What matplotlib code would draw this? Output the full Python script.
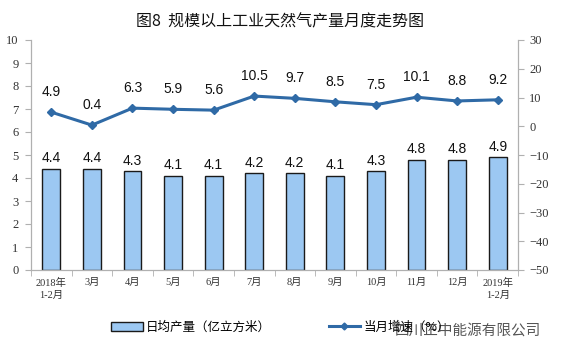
import numpy as np
import matplotlib.pyplot as plt
from matplotlib.lines import Line2D
from matplotlib.patches import Patch

plt.rcParams['font.family'] = ['Noto Sans CJK SC', 'DejaVu Sans']

months = ['2018年\n1-2月', '3月', '4月', '5月', '6月', '7月', '8月', '9月',
          '10月', '11月', '12月', '2019年\n1-2月']
daily_output = [4.4, 4.4, 4.3, 4.1, 4.1, 4.2, 4.2, 4.1, 4.3, 4.8, 4.8, 4.9]
growth = [4.9, 0.4, 6.3, 5.9, 5.6, 10.5, 9.7, 8.5, 7.5, 10.1, 8.8, 9.2]

fig = plt.figure(figsize=(5.61, 3.57), dpi=100)
ax = fig.add_axes([31 / 561, 1 - 270 / 357, (518 - 31) / 561, (270 - 40) / 357])
ax2 = ax.twinx()

x = np.arange(len(months))
ax.bar(x, daily_output, width=0.44, color='#9cc8f2', edgecolor='#1a1a1a', linewidth=1.0, zorder=2)
for xi, v in zip(x, daily_output):
    ax.text(xi, v + 0.15, f'{v:.1f}', ha='center', va='bottom', fontsize=10, color='#111111',
            family='Liberation Sans')

ax2.plot(x, growth, color='#2f6aa6', linewidth=2.2, marker='D', markersize=4.5, zorder=3)
for xi, v in zip(x, growth):
    ax2.text(xi, v + 4.5, f'{v:.1f}', ha='center', va='bottom', fontsize=10, color='#111111',
             family='Liberation Sans')

ax.set_xlim(-0.5, len(months) - 0.5)
ax.set_ylim(0, 10)
ax.set_yticks(range(0, 11))
ax2.set_ylim(-50, 30)
ax2.set_yticks(range(-50, 31, 10))

ax.set_xticks(x)
ax.set_xticklabels(months, fontsize=7.5, color='#333333', family=['Liberation Serif', 'Noto Sans CJK SC'],
                   linespacing=1.3)
ax.set_xticks(np.arange(-0.5, len(months), 1), minor=True)
ax.tick_params(axis='x', which='major', length=0, pad=6)
ax.tick_params(axis='x', which='minor', length=4, color='#b0b0b0')

ax.tick_params(axis='y', labelsize=9, labelcolor='#333333', length=4, color='#b0b0b0', pad=5)
ax2.tick_params(axis='y', labelsize=9, labelcolor='#333333', length=4, color='#b0b0b0', pad=4)
for lab in ax.get_yticklabels() + ax2.get_yticklabels():
    lab.set_family('Liberation Serif')

for a in (ax, ax2):
    a.spines['top'].set_visible(False)
    for s in ('left', 'right', 'bottom'):
        a.spines[s].set_color('#b0b0b0')
        a.spines[s].set_linewidth(0.8)

fig.text(0.5, 1 - 22 / 357, '图8  规模以上工业天然气产量月度走势图', ha='center', va='center',
         fontsize=11.5, color='#111111')

handles = [Patch(facecolor='#9cc8f2', edgecolor='#1a1a1a', linewidth=1.0),
           Line2D([0], [0], color='#2f6aa6', linewidth=2.2, marker='D', markersize=3.5)]
fig.legend(handles, ['日均产量（亿立方米）', '当月增速（%）'], loc='center left',
           bbox_to_anchor=(100 / 561, 1 - 327 / 357), ncol=2, frameon=False, fontsize=9,
           columnspacing=4.6, handlelength=2.5, handletextpad=0.3)

fig.text(1 - 20 / 561, 1 - 331 / 357, '四川正中能源有限公司', ha='right', va='center',
         fontsize=10.5, color='#555555')

fig.savefig('out.png', dpi=100)
